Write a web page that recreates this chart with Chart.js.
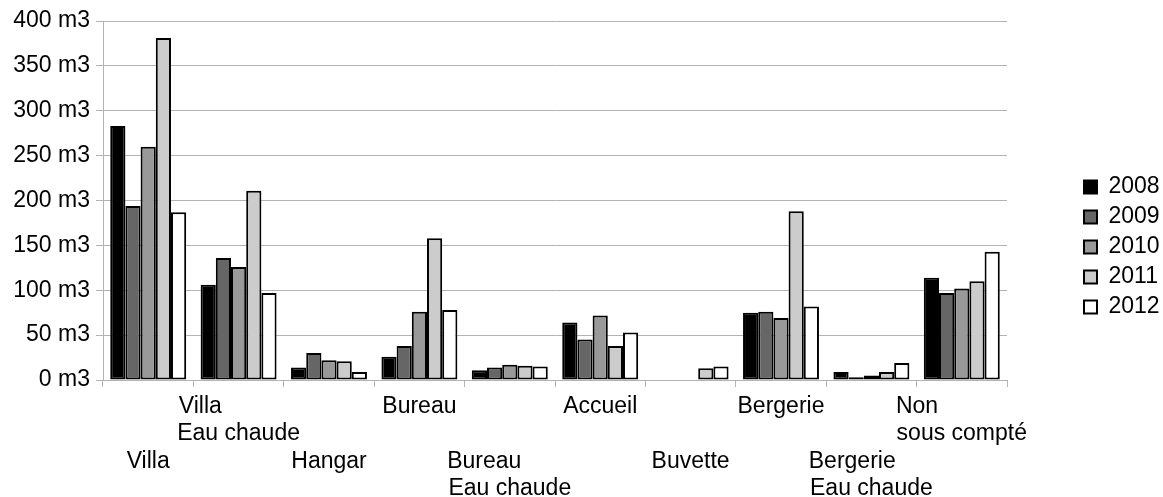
<!DOCTYPE html>
<html>
<head>
<meta charset="utf-8">
<script src="https://cdn.jsdelivr.net/npm/chart.js@4/dist/chart.umd.min.js"></script>
<style>
  body { margin: 0; background: #fff; }
  #wrap { width: 1163px; height: 497px; }
</style>
</head>
<body>
<div id="wrap"><canvas id="data-set" width="1163" height="497"></canvas></div>
<script>
// Categories (lines of each label)
const categories = [
    ["Villa"],
    ["Villa", "Eau chaude"],
    ["Hangar"],
    ["Bureau"],
    ["Bureau", "Eau chaude"],
    ["Accueil"],
    ["Buvette"],
    ["Bergerie"],
    ["Bergerie", "Eau chaude"],
    ["Non", "sous compté"]
];

const years = ["2008", "2009", "2010", "2011", "2012"];
const colors = ["#000000", "#666666", "#999999", "#cccccc", "#ffffff"];

// Consumption in m3, one array per year
const v2008 = [283, 106, 14, 26, 11, 64, null, 75, 9, 114];
const v2009 = [194, 136, 30, 38, 14, 45, null, 76, 3, 97];
const v2010 = [260, 126, 22, 76, 17, 72, null, 69, 5, 102];
const v2011 = [381, 211, 21, 158, 16, 38, 13, 188, 9, 110];
const v2012 = [187, 97, 9, 78, 15, 53, 15, 82, 19, 143];

const yTicks = [0, 50, 100, 150, 200, 250, 300, 350, 400];

const FONT = "Liberation Sans";
const FSIZE = 23;

// pad short lines with spaces so that lines look left aligned inside a centred block
const measure = document.createElement("canvas").getContext("2d");
measure.font = FSIZE + "px '" + FONT + "'";
function padLines(lines) {
    const widths = lines.map(l => measure.measureText(l).width);
    const max = Math.max(...widths);
    const sp = measure.measureText(" ").width;
    return lines.map((l, i) => l + " ".repeat(Math.round((max - widths[i]) / sp)));
}

// labels alternate between two rows
function tickLabel(index) {
    const lines = padLines(categories[index]);
    return index % 2 === 1 ? lines : ["", ""].concat(lines);
}

const allValues = [v2008, v2009, v2010, v2011, v2012];
const datasets = years.map((y, i) => ({
    label: y,
    data: allValues[i],
    backgroundColor: colors[i],
    borderColor: "#000000",
    borderWidth: 2,
    borderSkipped: false,
    categoryPercentage: 0.84,
    barPercentage: 1.0
}));

const legendFix = {
    id: "legendFix",
    beforeLayout(chart) {
        const lg = chart.legend;
        if (lg && !lg._wrapped) {
            const f = lg.fit.bind(lg);
            lg.fit = function () { f(); this.width = 156; };
            lg._wrapped = true;
        }
    },
    afterLayout(chart) {
        chart.legend.left += 70;
        chart.legend.top -= 12;
        chart.legend.bottom -= 12;
    }
};

const context = document.getElementById("data-set").getContext("2d");
const chart = new Chart(context, {
    type: "bar",
    data: {
        labels: categories.map(c => c.join(" ")),
        datasets
    },
    options: {
        responsive: false,
        animation: false,
        devicePixelRatio: 1,
        layout: { padding: { top: 21, left: 0, right: 0, bottom: 0 } },
        font: { family: FONT },
        scales: {
            x: {
                grid: {
                    offset: true,
                    drawOnChartArea: false,
                    tickLength: 7,
                    color: "#b3b3b3"
                },
                border: { color: "#b3b3b3" },
                ticks: {
                    autoSkip: false,
                    maxRotation: 0,
                    minRotation: 0,
                    padding: 6,
                    color: "#000",
                    font: { family: FONT, size: FSIZE, lineHeight: 1.19 },
                    callback: (value, index) => tickLabel(index)
                },
                afterFit(scale) { scale.height = 117; }
            },
            y: {
                min: 0,
                max: 400,
                afterBuildTicks(scale) { scale.ticks = yTicks.map(v => ({ value: v })); },
                grid: { color: "#b3b3b3", tickLength: 7 },
                border: { color: "#b3b3b3" },
                ticks: {
                    padding: 6,
                    color: "#000",
                    font: { family: FONT, size: FSIZE },
                    callback: v => v + " m3"
                },
                afterFit(scale) { scale.width = 103; }
            }
        },
        plugins: {
            legend: {
                position: "right",
                fullSize: true,
                labels: {
                    boxWidth: 13,
                    boxHeight: 13,
                    padding: 7,
                    color: "#000",
                    font: { family: FONT, size: FSIZE }
                }
            },
            tooltip: { enabled: false }
        }
    },
    plugins: [legendFix]
});
</script>
</body>
</html>
